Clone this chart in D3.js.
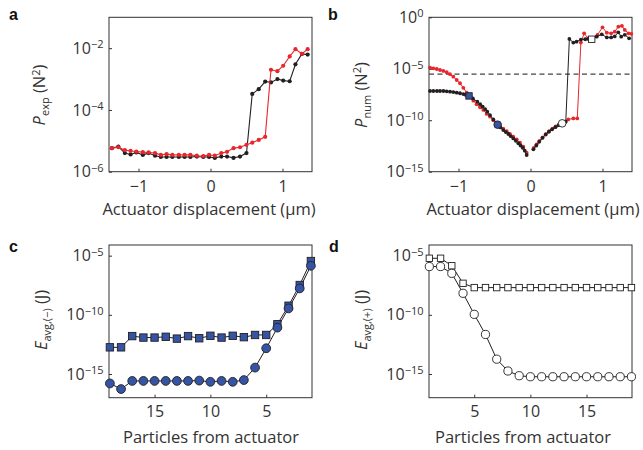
<!DOCTYPE html>
<html><head><meta charset="utf-8">
<script src="https://cdn.jsdelivr.net/npm/d3@7"></script>
<style>
body{margin:0;background:#fff;}
svg text{font-family:"Open Sans",sans-serif;fill:#333;}
</style></head><body>
<svg id="chart" width="643" height="450"></svg>
<script>
// ---------- Panel a : P_exp vs actuator displacement ----------
const aX = [-1.37,-1.28,-1.19,-1.11,-1.03,-0.94,-0.86,-0.77,-0.69,-0.61,-0.53,-0.44,-0.36,-0.28,-0.19,-0.10,-0.02,0.06,0.15,0.23,0.32,0.41,0.50,0.58,0.67,0.76,0.84,0.93,1.01,1.10,1.18,1.27,1.35];
const aBlack = [5.8e-6,6.5e-6,4.0e-6,3.6e-6,4.2e-6,3.5e-6,4.0e-6,3.3e-6,3.0e-6,3.0e-6,3.0e-6,3.0e-6,3.0e-6,3.0e-6,3.1e-6,3.0e-6,3.0e-6,2.8e-6,3.1e-6,3.1e-6,2.8e-6,3.1e-6,4.0e-6,3.3e-4,4.7e-4,8.3e-4,7.8e-4,1.0e-3,8.9e-4,8.5e-4,3.0e-3,6.5e-3,6.2e-3];
const aRed = [5.8e-6,6.2e-6,5.0e-6,4.7e-6,4.5e-6,4.3e-6,4.2e-6,4.0e-6,3.5e-6,3.7e-6,3.5e-6,3.5e-6,3.5e-6,3.5e-6,3.3e-6,3.2e-6,3.5e-6,3.3e-6,4.0e-6,4.4e-6,5.8e-6,6.2e-6,7.4e-6,8.7e-6,1.07e-5,1.35e-5,2.0e-3,1.8e-3,2.7e-3,5.4e-3,9.3e-3,6.6e-3,9.3e-3];
const aYTicks = [1e-6,1e-4,1e-2];
const dispTicks = [-1,0,1];

// ---------- Panel b : P_num vs actuator displacement ----------
const bBlackLeftX = [-1.396,-1.35,-1.30,-1.257,-1.21,-1.164,-1.118,-1.072,-1.025,-0.979,-0.933,-0.898,-0.854,-0.80,-0.739,-0.70,-0.664,-0.63,-0.60,-0.5625,-0.516,-0.456,-0.418,-0.378,-0.343,-0.308,-0.274,-0.239,-0.204,-0.169,-0.138,-0.108,-0.08,-0.053];
const bBlackLeftY = [6.9e-8,6.9e-8,6.9e-8,6.9e-8,6.9e-8,6.5e-8,5.9e-8,5.5e-8,4.8e-8,4.2e-8,3.5e-8,2.9e-8,2.3e-8,1.3e-8,6.3e-9,3.6e-9,2.1e-9,1.2e-9,6.8e-10,3.2e-10,1.2e-10,3.7e-11,2.0e-11,1.1e-11,7.1e-12,4.6e-12,2.8e-12,1.7e-12,1.0e-12,5.8e-13,3.5e-13,2.1e-13,1.1e-13,4.2e-14];
const bBlackRightX = [0.04,0.08,0.12,0.165,0.21,0.255,0.30,0.345,0.39,0.44,0.49,0.54,0.595,0.64,0.70,0.76,0.80,0.85,0.92,0.99,1.06,1.12,1.17,1.22,1.26,1.31,1.37];
const bBlackRightY = [1.5e-13,3.5e-13,7.9e-13,1.9e-12,4.0e-12,7.6e-12,1.3e-11,2.1e-11,3.3e-11,5.0e-11,7.1e-11,7.9e-3,3.5e-3,4.3e-3,6.9e-3,7.4e-3,7.9e-3,7.4e-3,1.3e-2,2.2e-2,1.1e-2,1.1e-2,1.4e-2,3.5e-2,1.3e-2,2.0e-2,9.1e-3];
const bRedLeftX = [-1.396,-1.35,-1.303,-1.257,-1.211,-1.164,-1.118,-1.072,-1.025,-0.979,-0.933,-0.886,-0.84,-0.794,-0.748,-0.701,-0.655,-0.609,-0.5625,-0.516,-0.47,-0.424,-0.378,-0.331,-0.285,-0.239,-0.192,-0.146,-0.1,-0.053];
const bRedLeftY = [1.3e-5,1.1e-5,9.5e-6,7.6e-6,6.2e-6,4.6e-6,3.0e-6,1.7e-6,8.1e-7,3.9e-7,1.4e-7,4.8e-8,1.9e-8,7.9e-9,3.5e-9,1.8e-9,1.0e-9,4.1e-10,2.2e-10,1.0e-10,5.8e-11,2.8e-11,1.5e-11,8.5e-12,4.6e-12,2.5e-12,1.4e-12,6.6e-13,2.7e-13,7.1e-14];
const bRedRightX = [0.045,0.085,0.125,0.17,0.215,0.26,0.305,0.35,0.40,0.456,0.525,0.595,0.65,0.70,0.745,0.80,0.85,0.93,1.0,1.06,1.12,1.17,1.22,1.27,1.31,1.36,1.40];
const bRedRightY = [2.0e-13,4.5e-13,1.0e-12,2.2e-12,4.7e-12,8.9e-12,1.5e-11,2.5e-11,4.0e-11,7.2e-11,1.2e-10,1.5e-10,1.5e-10,3.5e-3,2.8e-2,9.1e-3,9.1e-3,1.9e-2,0.107,3.2e-2,2.8e-2,4.0e-2,0.123,0.145,5.9e-2,2.8e-2,2.5e-2];
const bThreshold = 3e-6;
const bMarkerX = [-0.854,-0.456,0.44,0.85];
const bMarkerY = [2.3e-8,3.7e-11,5.0e-11,7.4e-3];
const bMarkerShape = ["square","circle","circle","square"];
const bMarkerFill = ["blue","blue","white","white"];
const bYTicks = [1e-15,1e-10,1e-5,1];

// ---------- Panels c, d : E_avg vs particles from actuator ----------
const cParticles = [19,18,17,16,15,14,13,12,11,10,9,8,7,6,5,4,3,2,1];
const cSquares = [1.8e-13,1.8e-13,1.6e-12,1.2e-12,1.2e-12,1.4e-12,9.8e-13,1.6e-12,1.05e-12,1.7e-12,1.2e-12,1.7e-12,1.3e-12,2.0e-12,2.0e-12,1.6e-11,5.9e-10,3.3e-8,3.5e-6];
const cCircles = [1.6e-16,5.4e-17,2.6e-16,2.6e-16,2.6e-16,2.6e-16,2.6e-16,2.6e-16,2.8e-16,2.2e-16,2.6e-16,2.2e-16,3.1e-16,3.5e-15,1.5e-13,8.3e-12,3.5e-10,1.7e-8,1.4e-6];
const dParticles = [1,2,3,4,5,6,7,8,9,10,11,12,13,14,15,16,17,18,19];
const dSquares = [6.0e-6,6.0e-6,1.4e-6,4.6e-8,2.0e-8,2.0e-8,2.0e-8,2.0e-8,2.0e-8,2.0e-8,2.0e-8,2.0e-8,2.0e-8,2.0e-8,2.0e-8,2.0e-8,2.0e-8,2.0e-8,2.0e-8];
const dCircles = [1.2e-6,1.2e-6,3.2e-7,6.6e-9,1.1e-10,2.2e-12,1.8e-14,1.8e-15,7.2e-16,5.9e-16,5.9e-16,5.9e-16,5.9e-16,5.9e-16,5.9e-16,5.9e-16,5.9e-16,5.9e-16,5.9e-16];
const partTicks = [5,10,15];
const eYTicks = [1e-15,1e-10,1e-5];

// ---------- styles ----------
const RED = "#e8262d", BLACK = "#231f20", BLUE = "#3554a4", AX = "#333";
const TICK_FS = 16, TITLE_FS = 16.5, SMALL_FS = 11;
const svg = d3.select("#chart");

function minus(v){ return v < 0 ? "\u2212" + (-v) : String(v); }

function frame(box, x, y, xTicks, yTicks, xPad){
  const g = svg.append("g");
  const xa = d3.axisBottom(x).tickValues(xTicks).tickSizeInner(-3).tickSizeOuter(0).tickPadding(xPad).tickFormat(minus);
  const gx = g.append("g").attr("transform", `translate(0,${box.b})`).call(xa);
  const ya = d3.axisLeft(y).tickValues(yTicks).tickSizeInner(-3).tickSizeOuter(0).tickPadding(5.5);
  const gy = g.append("g").attr("transform", `translate(${box.l},0)`).call(ya);
  [gx, gy].forEach(s => {
    s.attr("font-size", TICK_FS).attr("font-family", "'Open Sans',sans-serif");
    s.select(".domain").remove();
    s.selectAll("line").attr("stroke", AX);
    s.selectAll("text").attr("font-size", TICK_FS).attr("fill", AX);
  });
  gy.selectAll(".tick text").each(function(d){
    const t = d3.select(this).text(null);
    const e = Math.round(Math.log10(d));
    t.append("tspan").text("10");
    t.append("tspan").attr("dy", "-5.5").attr("font-size", SMALL_FS).text(minus(e));
  });
  g.append("rect").attr("x", box.l).attr("y", box.t).attr("width", box.r - box.l).attr("height", box.b - box.t)
    .attr("fill", "none").attr("stroke", AX).attr("stroke-width", 1);
  return g;
}

function letter(t, px, py){
  svg.append("text").attr("x", px).attr("y", py).attr("font-size", 16).attr("font-weight", "bold")
    .style("font-family", "'Liberation Sans',Arial,sans-serif").style("fill", "#111").text(t);
}

function yTitle(px, py, main, sub, rest, sup, tail){
  const t = svg.append("text").attr("transform", `translate(${px},${py}) rotate(-90)`).attr("text-anchor", "middle").attr("font-size", TITLE_FS);
  t.append("tspan").attr("font-style", "italic").text(main);
  t.append("tspan").attr("font-size", SMALL_FS).attr("dy", 4).text(sub);
  t.append("tspan").attr("dy", -4).text(rest);
  if (sup){
    t.append("tspan").attr("font-size", SMALL_FS).attr("dy", -5.5).text(sup);
    t.append("tspan").attr("dy", 5.5).text(tail);
  }
}

function xTitle(px, py, s){
  svg.append("text").attr("x", px).attr("y", py).attr("text-anchor", "middle").attr("font-size", TITLE_FS).text(s);
}

function dotLine(x, y, xs, ys, color, r, w){
  const pts = xs.map((v, i) => [x(v), y(ys[i])]);
  svg.append("path").attr("d", d3.line()(pts)).attr("fill", "none").attr("stroke", color).attr("stroke-width", w);
  svg.append("g").selectAll("circle").data(pts).join("circle")
    .attr("cx", d => d[0]).attr("cy", d => d[1]).attr("r", r).attr("fill", color);
}

// ---------- panel a ----------
const boxA = {l:109, r:312, t:17.3, b:171.7};
const xA = d3.scaleLinear().domain([-1.41, 1.41]).range([boxA.l, boxA.r]);
const yA = d3.scaleLog().domain([1e-6, 1e-1]).range([boxA.b, boxA.t]);
frame(boxA, xA, yA, dispTicks, aYTicks, 9);
dotLine(xA, yA, aX, aBlack, BLACK, 2.1, 1.1);
dotLine(xA, yA, aX, aRed, RED, 2.1, 1.1);
letter("a", 9, 20);
yTitle(45, 95, "P", "exp", " (N", "2", ")");
xTitle(209, 215, "Actuator displacement (\u03bcm)");

// ---------- panel b ----------
const boxB = {l:429, r:632, t:17.3, b:171.7};
const xB = d3.scaleLinear().domain([-1.41, 1.41]).range([boxB.l, boxB.r]);
const yB = d3.scaleLog().domain([1e-15, 1]).range([boxB.b, boxB.t]);
frame(boxB, xB, yB, dispTicks, bYTicks, 9);
svg.append("line").attr("x1", boxB.l).attr("x2", boxB.r).attr("y1", yB(bThreshold)).attr("y2", yB(bThreshold))
  .attr("stroke", "#444").attr("stroke-width", 1.3).attr("stroke-dasharray", "5,3.5");
dotLine(xB, yB, bRedLeftX, bRedLeftY, RED, 1.9, 1);
dotLine(xB, yB, bRedRightX, bRedRightY, RED, 1.9, 1);
dotLine(xB, yB, bBlackLeftX, bBlackLeftY, BLACK, 1.9, 1);
dotLine(xB, yB, bBlackRightX, bBlackRightY, BLACK, 1.9, 1);
bMarkerX.forEach((v, i) => {
  const cx = xB(v), cy = yB(bMarkerY[i]);
  const fill = bMarkerFill[i] === "blue" ? BLUE : "#fff";
  if (bMarkerShape[i] === "square")
    svg.append("rect").attr("x", cx - 3.2).attr("y", cy - 3.2).attr("width", 6.4).attr("height", 6.4).attr("fill", fill).attr("stroke", BLACK).attr("stroke-width", 0.9);
  else
    svg.append("circle").attr("cx", cx).attr("cy", cy).attr("r", 3.8).attr("fill", fill).attr("stroke", BLACK).attr("stroke-width", 0.9);
});
letter("b", 328, 20);
yTitle(366.5, 95, "P", "num", " (N", "2", ")");
xTitle(533, 215, "Actuator displacement (\u03bcm)");

// ---------- panel c & d ----------
function markerPanel(box, xDom, parts, sq, ci, fill, sqSize, cr){
  const x = d3.scaleLinear().domain(xDom).range([box.l, box.r]);
  const y = d3.scaleLog().domain([1e-17, Math.pow(10, -4.1)]).range([box.b, box.t]);
  frame(box, x, y, partTicks, eYTicks, 7.5);
  const line = d3.line().x((d, i) => x(parts[i])).y(d => y(d));
  svg.append("path").attr("d", line(sq)).attr("fill", "none").attr("stroke", BLACK).attr("stroke-width", 1);
  svg.append("path").attr("d", line(ci)).attr("fill", "none").attr("stroke", BLACK).attr("stroke-width", 1);
  svg.append("g").selectAll("rect").data(sq).join("rect")
    .attr("x", (d, i) => x(parts[i]) - sqSize / 2).attr("y", d => y(d) - sqSize / 2)
    .attr("width", sqSize).attr("height", sqSize).attr("fill", fill).attr("stroke", BLACK).attr("stroke-width", 0.9);
  svg.append("g").selectAll("circle").data(ci).join("circle")
    .attr("cx", (d, i) => x(parts[i])).attr("cy", d => y(d)).attr("r", cr)
    .attr("fill", fill).attr("stroke", BLACK).attr("stroke-width", 0.9);
}
const boxC = {l:109, r:312, t:245, b:397.7};
markerPanel(boxC, [19.08, 0.9], cParticles, cSquares, cCircles, BLUE, 7.4, 4.4);
letter("c", 9, 252);
yTitle(46.5, 320, "E", "avg,(\u2212)", " (J)");
xTitle(211, 443, "Particles from actuator");

const boxD = {l:429, r:632, t:245, b:397.7};
markerPanel(boxD, [0.97, 19.05], dParticles, dSquares, dCircles, "#fff", 6.4, 4.1);
letter("d", 329, 252);
yTitle(366.5, 320, "E", "avg,(+)", " (J)");
xTitle(523, 443, "Particles from actuator");
</script>
</body></html>
